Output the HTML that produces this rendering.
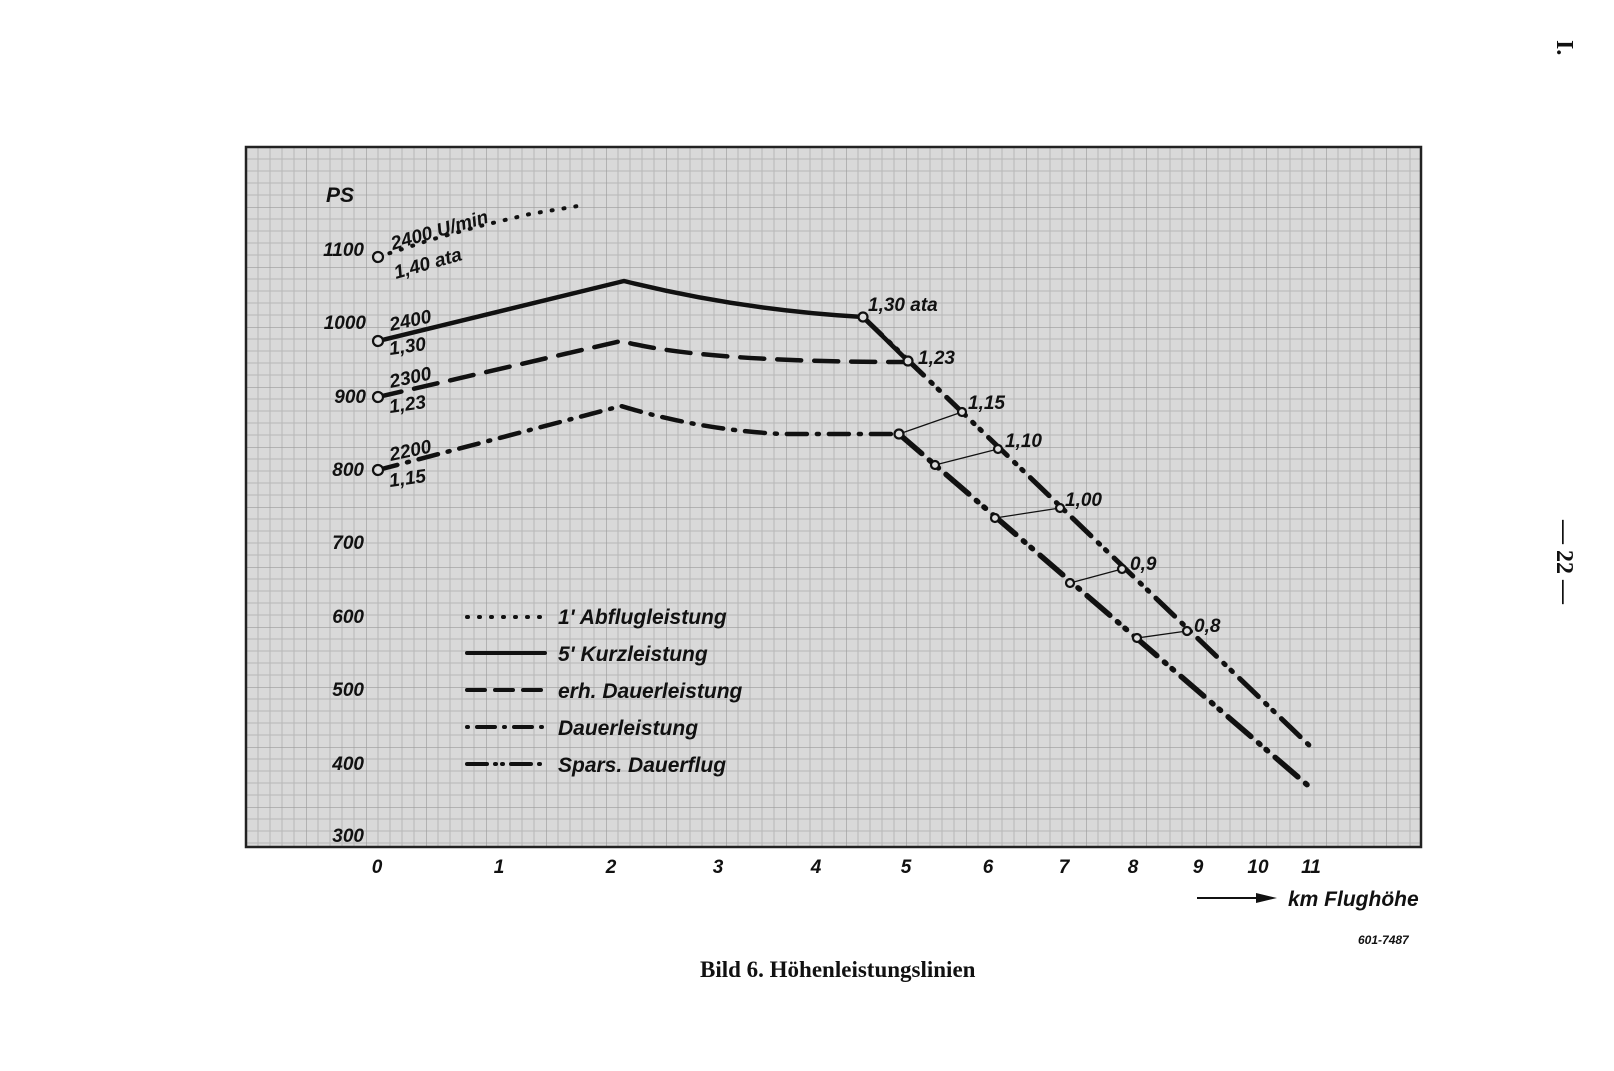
<!DOCTYPE html>
<html><head><meta charset="utf-8"><style>
html,body{margin:0;padding:0;background:#fff;}
svg{display:block;}
text{font-family:"Liberation Sans",sans-serif;font-style:italic;font-weight:bold;fill:#111;}
</style></head><body>
<svg width="1614" height="1071" viewBox="0 0 1614 1071" xmlns="http://www.w3.org/2000/svg">
<defs>
<pattern id="g" x="246" y="147" width="60" height="60" patternUnits="userSpaceOnUse">
<rect width="60" height="60" fill="#d9d9d9"/>
<path d="M0 0V60M12 0V60M24 0V60M36 0V60M48 0V60M0 0H60M0 12H60M0 24H60M0 36H60M0 48H60" stroke="#b8b8b8" stroke-width="1"/>
<path d="M0 0V60M0 0H60" stroke="#9c9c9c" stroke-width="1.3"/>
</pattern>
</defs>
<rect x="246" y="147" width="1175" height="700" fill="url(#g)" stroke="#222" stroke-width="2.5"/>

<g font-size="19" text-anchor="end">
<text x="364" y="256">1100</text><text x="366" y="329">1000</text><text x="366" y="403">900</text>
<text x="364" y="476">800</text><text x="364" y="549">700</text><text x="364" y="623">600</text>
<text x="364" y="696">500</text><text x="364" y="770">400</text><text x="364" y="842">300</text>
</g>
<text x="326" y="202" font-size="21">PS</text>
<g font-size="19" text-anchor="middle">
<text x="377" y="873">0</text><text x="499" y="873">1</text><text x="611" y="873">2</text><text x="718" y="873">3</text>
<text x="816" y="873">4</text><text x="906" y="873">5</text><text x="988" y="873">6</text><text x="1064" y="873">7</text>
<text x="1133" y="873">8</text><text x="1198" y="873">9</text><text x="1258" y="873">10</text><text x="1311" y="873">11</text>
</g>
<line x1="1197" y1="898" x2="1262" y2="898" stroke="#111" stroke-width="2"/>
<polygon points="1256,893 1277,898 1256,903" fill="#111"/>
<text x="1288" y="906" font-size="21">km Flughöhe</text>
<text x="1358" y="944" font-size="12" font-style="normal">601-7487</text>
<text x="700" y="977" font-size="23" style="font-family:'Liberation Serif',serif;font-style:normal">Bild 6.   Höhenleistungslinien</text>
<text transform="translate(1557,40) rotate(90)" font-size="24" style="font-family:'Liberation Serif',serif;font-style:normal">I.</text>
<text transform="translate(1557,520) rotate(90)" font-size="24" style="font-family:'Liberation Serif',serif;font-style:normal">— 22 —</text>

<g fill="none" stroke="#111" stroke-linecap="round" stroke-linejoin="round">
<polyline points="378,257 430,240 480,226 530,214 578,206" stroke-width="4" stroke-dasharray="1 11"/>
<path d="M378,341 L624,281 Q740,310 863,317 L908,361" stroke-width="4.5"/>
<path d="M378,397 L621,341 Q700,362 908,362" stroke-width="4.5" stroke-dasharray="24 13"/>
<path d="M378,470 L621,406 Q700,430 782,434 L899,434" stroke-width="4.5" stroke-dasharray="20 10 2 10"/>
<path d="M863,317 L1312,748" stroke-width="5" stroke-dasharray="26 10 2 8 2 10"/>
<path d="M899,434 L1312,789" stroke-width="5.5" stroke-dasharray="30 10 2 8 2 10"/>
<g stroke-width="1.3">
<line x1="899" y1="434" x2="962" y2="412"/><line x1="935" y1="465" x2="998" y2="449"/>
<line x1="995" y1="518" x2="1060" y2="508"/><line x1="1070" y1="583" x2="1122" y2="569"/>
<line x1="1137" y1="638" x2="1187" y2="631"/>
</g>
<g stroke-width="2.2" fill="#ddd">
<circle cx="378" cy="257" r="5"/><circle cx="378" cy="341" r="5"/><circle cx="378" cy="397" r="5"/><circle cx="378" cy="470" r="5"/>
<circle cx="863" cy="317" r="4.5"/><circle cx="908" cy="361" r="4.5"/><circle cx="962" cy="412" r="4"/><circle cx="998" cy="449" r="4"/>
<circle cx="1060" cy="508" r="4"/><circle cx="1122" cy="569" r="4"/><circle cx="1187" cy="631" r="4"/>
<circle cx="899" cy="434" r="4.5"/><circle cx="935" cy="465" r="4"/><circle cx="995" cy="518" r="4"/><circle cx="1070" cy="583" r="4"/><circle cx="1137" cy="638" r="4"/>
</g>
</g>
<g font-size="19">
<text transform="translate(393,250) rotate(-16)">2400 U/min</text>
<text transform="translate(396,279) rotate(-16)">1,40 ata</text>
<text transform="translate(391,331) rotate(-12)">2400</text>
<text x="390" y="355" transform="rotate(-8 390 355)">1,30</text>
<text transform="translate(391,388) rotate(-12)">2300</text>
<text x="390" y="413" transform="rotate(-8 390 413)">1,23</text>
<text transform="translate(391,461) rotate(-12)">2200</text>
<text x="390" y="487" transform="rotate(-8 390 487)">1,15</text>
</g>
<g font-size="19">
<text x="868" y="311">1,30 ata</text><text x="918" y="364">1,23</text><text x="968" y="409">1,15</text>
<text x="1005" y="447">1,10</text><text x="1065" y="506">1,00</text><text x="1130" y="570">0,9</text><text x="1194" y="632">0,8</text>
</g>
<g fill="none" stroke="#111" stroke-width="4" stroke-linecap="round">
<line x1="467" y1="617" x2="545" y2="617" stroke-dasharray="1 11"/>
<line x1="467" y1="653" x2="545" y2="653"/>
<line x1="467" y1="690" x2="545" y2="690" stroke-dasharray="18 10"/>
<line x1="467" y1="727" x2="545" y2="727" stroke-dasharray="1 9 18 9"/>
<line x1="467" y1="764" x2="545" y2="764" stroke-dasharray="20 8 1 6 1 8"/>
</g>
<g font-size="21">
<text x="558" y="624">1' Abflugleistung</text>
<text x="558" y="661">5' Kurzleistung</text>
<text x="558" y="698">erh. Dauerleistung</text>
<text x="558" y="735">Dauerleistung</text>
<text x="558" y="772">Spars. Dauerflug</text>
</g>
</svg>
</body></html>
